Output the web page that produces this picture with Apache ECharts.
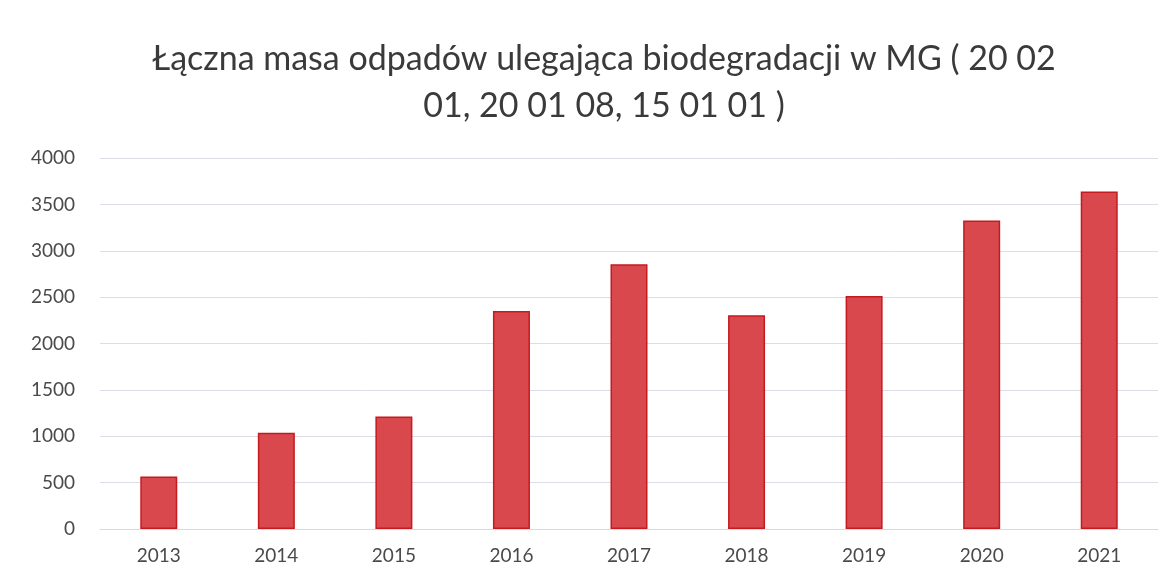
<!DOCTYPE html>
<html><head><meta charset="utf-8">
<script src="https://cdn.jsdelivr.net/npm/echarts@6/dist/echarts.min.js"></script>
<style>html,body{margin:0;padding:0;background:#fff}#c{width:1173px;height:583px}</style>
</head><body><div id="c"></div>
<script>
const titleText = 'Łączna masa odpadów ulegająca biodegradacji w MG ( 20 02\n01, 20 01 08, 15 01 01 )';
const categories = ['2013','2014','2015','2016','2017','2018','2019','2020','2021'];
const values = [565, 1037, 1214, 2351, 2855, 2304, 2513, 3326, 3640];
const yMin = 0, yMax = 4000, yStep = 500;

const chart = echarts.init(document.getElementById('c'), null, {renderer:'canvas'});
chart.setOption({
  backgroundColor:'#ffffff',
  animation:false,
  title:{
    text:titleText, left:599, top:31, textAlign:'center',
    textStyle:{fontFamily:'Lato', fontSize:34, fontWeight:'normal', color:'#3a3a3a', lineHeight:47}
  },
  grid:{left:100, right:15, top:158, bottom:54},
  xAxis:{
    type:'category', data:categories,
    axisLine:{show:true, lineStyle:{color:'#d9d9e0'}},
    axisTick:{show:false},
    axisLabel:{color:'#4a4a4a', fontFamily:'Lato', fontSize:19, margin:17}
  },
  yAxis:{
    type:'value', min:yMin, max:yMax, interval:yStep,
    axisLine:{show:false}, axisTick:{show:false},
    axisLabel:{color:'#4a4a4a', fontFamily:'Lato', fontSize:19, margin:25, formatter:function(v){return String(v);}},
    splitLine:{lineStyle:{color:'#dcdde6', width:1}}
  },
  series:[{
    type:'bar', data:values, barWidth:37,
    itemStyle:{color:'#d9484c', borderColor:'#c41a20', borderWidth:1.5}
  }]
});
</script></body></html>
